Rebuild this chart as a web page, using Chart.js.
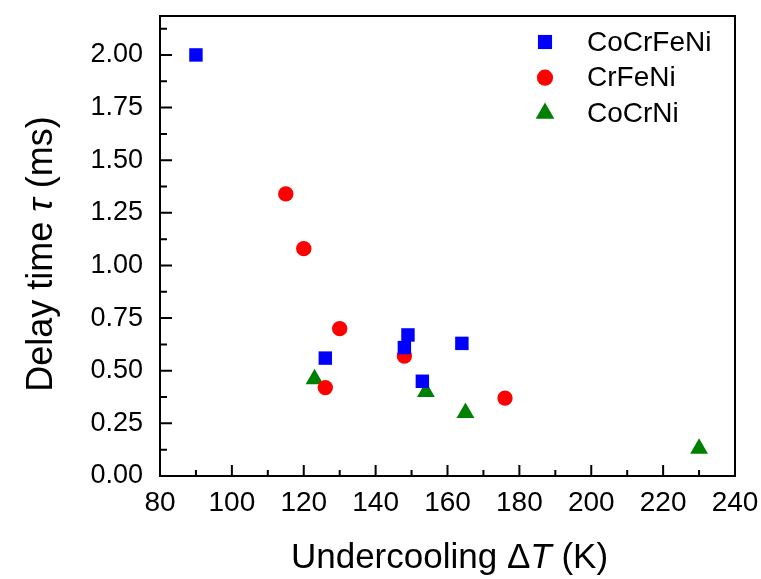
<!DOCTYPE html>
<html lang="en">
<head>
<meta charset="UTF-8">
<title>Delay time vs undercooling</title>
<style>
  body {
    margin: 0;
    background: #fff;
  }
  .chart-box {
    width: 761px;
    height: 579px;
  }
</style>
</head>
<body>
<div class="chart-box">
  <canvas id="delayChart"></canvas>
</div>

<script src="https://cdn.jsdelivr.net/npm/chart.js"></script>
<script>
  // undercooling (K) and delay time (ms) for each alloy
  const cocrfeniX = [90, 126, 148, 149, 153, 164];
  const cocrfeniY = [2.00, 0.56, 0.61, 0.67, 0.45, 0.63];
  const crfeniX = [115, 120, 130, 126, 148, 176];
  const crfeniY = [1.34, 1.08, 0.70, 0.42, 0.57, 0.37];
  const cocrniX = [123, 154, 165, 230];
  const cocrniY = [0.46, 0.40, 0.30, 0.13];

  const xTicks = [80, 100, 120, 140, 160, 180, 200, 220, 240];
  const yTicks = [0, 0.25, 0.5, 0.75, 1, 1.25, 1.5, 1.75, 2];

  // axis titles, split so the symbols can be set in italics
  const xTitle = [['Undercooling \u0394', false], ['T', true], [' (K)', false]];
  const yTitle = [['Delay time ', false], ['\u03c4', true], [' (ms)', false]];

  const toPoints = (xs, ys) => xs.map((x, i) => ({ x: x, y: ys[i] }));

  const fontFamily = "'Liberation Sans', Arial, sans-serif";

  // box frame with inward major/minor ticks on left and bottom
  const framePlugin = {
    id: 'frame',
    afterDatasetsDraw(chart) {
      const { ctx, chartArea: a, scales } = chart;
      const xs = scales.x, ys = scales.y;
      ctx.save();
      ctx.strokeStyle = '#000';
      ctx.lineWidth = 2;
      ctx.strokeRect(a.left, a.top, a.right - a.left, a.bottom - a.top);
      ctx.beginPath();
      for (let v = 80; v <= 240; v += 10) {
        const px = xs.getPixelForValue(v);
        const len = v % 20 === 0 ? 11 : 6;
        ctx.moveTo(px, a.bottom);
        ctx.lineTo(px, a.bottom - len);
      }
      for (let k = 0; k <= 17; k++) {
        const v = k * 0.125;
        const py = ys.getPixelForValue(v);
        const len = k % 2 === 0 ? 12 : 7;
        ctx.moveTo(a.left, py);
        ctx.lineTo(a.left + len, py);
      }
      ctx.stroke();
      ctx.restore();
    }
  };

  function drawRichText(ctx, parts, size, x, y) {
    const fonts = parts.map(p => (p[1] ? 'italic ' : '') + size + 'px ' + fontFamily);
    let total = 0;
    parts.forEach((p, i) => { ctx.font = fonts[i]; total += ctx.measureText(p[0]).width; });
    let cx = x - total / 2;
    parts.forEach((p, i) => {
      ctx.font = fonts[i];
      ctx.fillText(p[0], cx, y);
      cx += ctx.measureText(p[0]).width;
    });
  }

  const titlesPlugin = {
    id: 'axisTitles',
    afterDraw(chart) {
      const { ctx, chartArea: a } = chart;
      ctx.save();
      ctx.fillStyle = '#000';
      ctx.textAlign = 'left';
      ctx.textBaseline = 'alphabetic';
      drawRichText(ctx, xTitle, 35, (a.left + a.right) / 2 + 2, 568);
      ctx.translate(52, (a.top + a.bottom) / 2 + 8);
      ctx.rotate(-Math.PI / 2);
      drawRichText(ctx, yTitle, 36, 0, 0);
      ctx.restore();
    }
  };

  // legend drawn inside the plot, top right
  const insideLegend = {
    id: 'insideLegend',
    afterDraw(chart) {
      const { ctx, chartArea: a } = chart;
      ctx.save();
      ctx.font = '28px ' + fontFamily;
      ctx.textBaseline = 'middle';
      ctx.textAlign = 'left';
      chart.data.datasets.forEach((ds, i) => {
        const y = a.top + 26 + i * 35.7;
        const x = a.right - 190;
        ctx.fillStyle = ds.backgroundColor;
        Chart.helpers.drawPoint(ctx, {
          pointStyle: ds.pointStyle,
          radius: ds.pointRadius * 1.05,
          rotation: 0,
          borderWidth: 0
        }, x, y);
        ctx.fillStyle = '#000';
        ctx.fillText(ds.label, x + 42, y + 1);
      });
      ctx.restore();
    }
  };

  new Chart(document.getElementById('delayChart'), {
    type: 'scatter',
    data: {
      datasets: [{
        label: 'CoCrFeNi',
        data: toPoints(cocrfeniX, cocrfeniY),
        pointStyle: 'rect',
        pointRadius: 9.5,
        backgroundColor: '#0000ff',
        borderColor: '#0000ff',
        pointBorderWidth: 0
      }, {
        label: 'CrFeNi',
        data: toPoints(crfeniX, crfeniY),
        pointStyle: 'circle',
        pointRadius: 7.7,
        backgroundColor: '#ff0000',
        borderColor: '#ff0000',
        pointBorderWidth: 0
      }, {
        label: 'CoCrNi',
        data: toPoints(cocrniX, cocrniY),
        pointStyle: 'triangle',
        pointRadius: 10.3,
        backgroundColor: '#008000',
        borderColor: '#008000',
        pointBorderWidth: 0
      }]
    },
    options: {
      responsive: true,
      maintainAspectRatio: false,
      animation: false,
      layout: {
        padding: { top: 16, right: 26, left: 0, bottom: 0 }
      },
      plugins: {
        legend: { display: false },
        tooltip: { enabled: false }
      },
      scales: {
        x: {
          type: 'linear',
          min: 80,
          max: 240,
          grid: { display: false, drawTicks: false },
          border: { display: false },
          afterBuildTicks: (scale) => { scale.ticks = xTicks.map(v => ({ value: v })); },
          afterFit: (scale) => {
            scale.height = 103;
            scale.paddingLeft = 0;
            scale.paddingRight = 0;
          },
          ticks: {
            padding: 10,
            color: '#000',
            font: { family: fontFamily, size: 28 },
            callback: (v) => String(v)
          }
        },
        y: {
          type: 'linear',
          min: 0,
          max: 2.185,
          grid: { display: false, drawTicks: false },
          border: { display: false },
          afterBuildTicks: (scale) => { scale.ticks = yTicks.map(v => ({ value: v })); },
          afterFit: (scale) => {
            scale.width = 160;
            scale.paddingTop = 0;
            scale.paddingBottom = 0;
          },
          ticks: {
            padding: 17,
            color: '#000',
            font: { family: fontFamily, size: 27 },
            callback: (v) => Number(v).toFixed(2)
          }
        }
      }
    },
    plugins: [framePlugin, insideLegend, titlesPlugin]
  });
</script>
</body>
</html>
